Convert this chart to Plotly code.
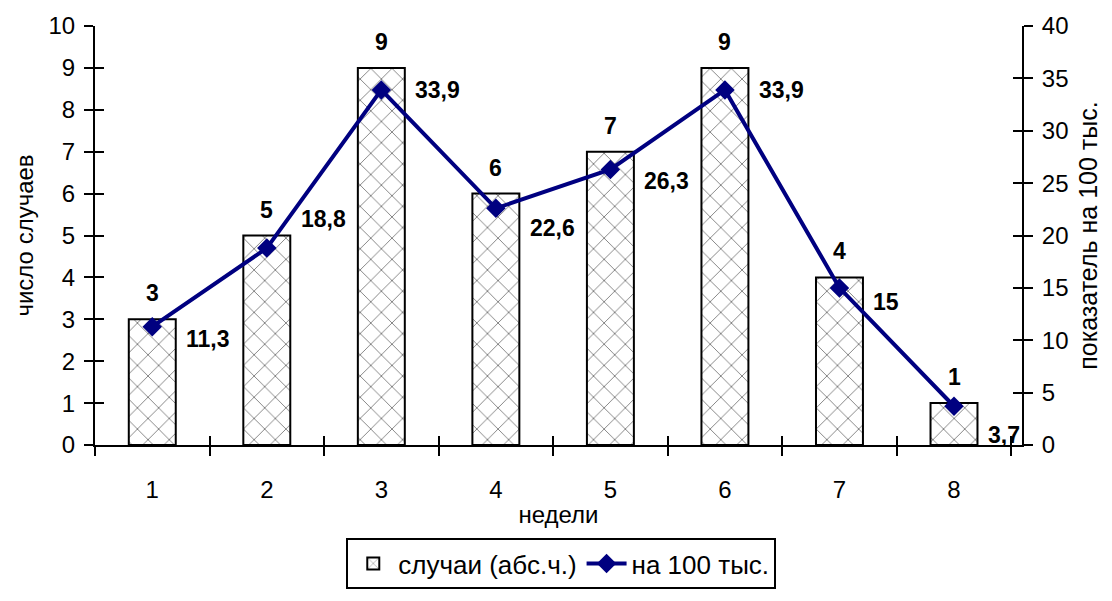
import plotly.graph_objects as go

weeks = ["1", "2", "3", "4", "5", "6", "7", "8"]
cases = [3, 5, 9, 6, 7, 9, 4, 1]
rate = [11.3, 18.8, 33.9, 22.6, 26.3, 33.9, 15, 3.7]
rate_labels = ["11,3", "18,8", "33,9", "22,6", "26,3", "33,9", "15", "3,7"]

# label placement (pixels, downward positive) – layout only
rate_label_dy = [12, -29, 0, 20, 11, 0, 14, 29]

FONT = "Liberation Sans, Arial, sans-serif"
NAVY = "#000080"

fig = go.Figure()
fig.add_trace(go.Bar(
    x=weeks, y=cases, name="случаи (абс.ч.)", width=0.41,
    marker=dict(color="white", line=dict(color="black", width=2),
                pattern=dict(shape="x", fgcolor="black", bgcolor="white",
                             size=15, solidity=0.12, fillmode="overlay")),
    hoverinfo="x+y",
))
fig.add_trace(go.Scatter(
    x=weeks, y=rate, name="на 100 тыс.", yaxis="y2", mode="lines+markers",
    line=dict(color=NAVY, width=4),
    marker=dict(symbol="diamond", size=15, color=NAVY),
    cliponaxis=False,
))
# invisible helper traces carrying the inside-tick axes
fig.add_trace(go.Scatter(x=weeks, y=cases, xaxis="x2", yaxis="y3", mode="markers",
                         marker=dict(opacity=0), showlegend=False, hoverinfo="skip"))
fig.add_trace(go.Scatter(x=weeks, y=rate, xaxis="x2", yaxis="y4", mode="markers",
                         marker=dict(opacity=0), showlegend=False, hoverinfo="skip"))

for i, c in enumerate(cases):
    fig.add_annotation(x=i, y=c, yref="y", text="<b>%d</b>" % c, showarrow=False,
                       yshift=26, font=dict(family=FONT, size=23, color="black"))

for i, (r, lab, dy) in enumerate(zip(rate, rate_labels, rate_label_dy)):
    fig.add_annotation(x=i, y=r, yref="y2", text="<b>%s</b>" % lab, showarrow=False,
                       xanchor="left", xshift=32, yshift=-dy,
                       font=dict(family=FONT, size=23, color="black"))

tick_common = dict(tickwidth=2, tickcolor="black", ticklen=9, showgrid=False, zeroline=False)

fig.update_layout(
    width=1112, height=601,
    margin=dict(l=95, r=90, t=24, b=148),
    paper_bgcolor="white", plot_bgcolor="white",
    font=dict(family=FONT, size=24, color="black"),
    showlegend=True,
    xaxis=dict(type="category", showline=True, linecolor="black", linewidth=2,
               ticks="outside", tickson="boundaries", ticklabelstandoff=22,
               title=dict(text="недели", standoff=4, font=dict(size=24)),
               **tick_common),
    xaxis2=dict(type="category", overlaying="x", matches="x", ticks="inside",
                tickson="boundaries", showticklabels=False, showline=False, **tick_common),
    yaxis=dict(range=[0, 10], dtick=1, showline=True, linecolor="black", linewidth=2,
               ticks="outside", ticklabelstandoff=4,
               title=dict(text="число случаев", standoff=8, font=dict(size=24)),
               **tick_common),
    yaxis2=dict(range=[0, 40], dtick=5, overlaying="y", side="right", showline=True,
                linecolor="black", linewidth=2, ticks="outside", ticklabelstandoff=4,
                title=dict(text="показатель на 100 тыс.", standoff=12, font=dict(size=25)),
                **tick_common),
    yaxis3=dict(range=[0, 10], dtick=1, overlaying="y", side="left", ticks="inside",
                showticklabels=False, showline=False, **tick_common),
    yaxis4=dict(range=[0, 40], dtick=5, overlaying="y", side="right", ticks="inside",
                showticklabels=False, showline=False, **tick_common),
    legend=dict(orientation="h", x=0.503, xanchor="center", y=-0.222, yanchor="top",
                bordercolor="black", borderwidth=2, font=dict(size=26),
                itemwidth=40, tracegroupgap=0, traceorder="normal"),
)

fig.write_html("out.html")
